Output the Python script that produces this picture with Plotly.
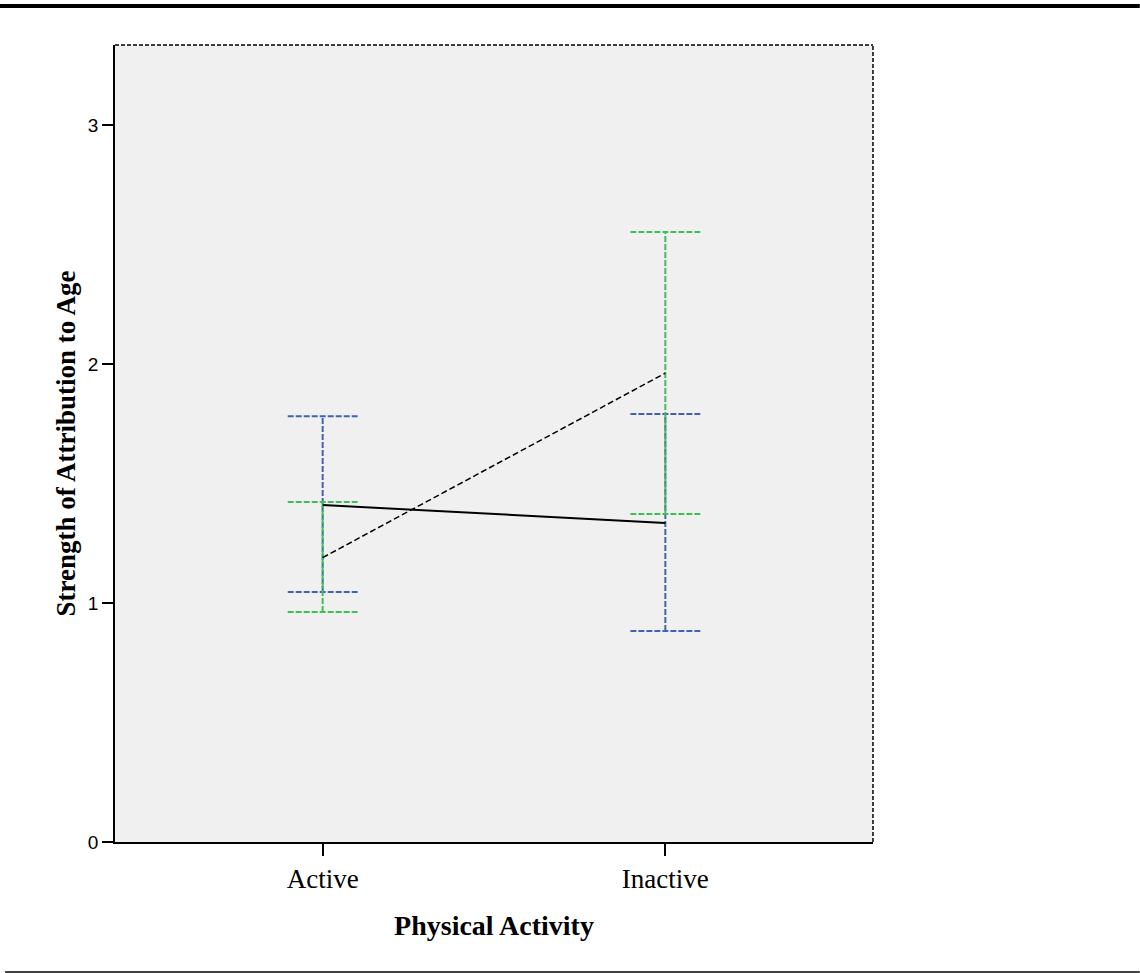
import plotly.graph_objects as go

categories = ["Active", "Inactive"]
# Series 1 (solid line, blue error bars)
s1_mean = [1.41, 1.335]
s1_low = [1.046, 0.883]
s1_high = [1.782, 1.791]
# Series 2 (dashed line, green error bars)
s2_mean = [1.19, 1.962]
s2_low = [0.962, 1.372]
s2_high = [1.423, 2.552]
y_ticks = [0, 1, 2, 3]

BLUE = "#4262b4"
GREEN = "#3fc055"
CAP = 0.102

x_pos = list(range(len(categories)))


def bar_trace(low, high, color):
    xs, ys = [], []
    for i, (lo, hi) in enumerate(zip(low, high)):
        xs += [i, i, None, i - CAP, i + CAP, None, i - CAP, i + CAP, None]
        ys += [lo, hi, None, lo, lo, None, hi, hi, None]
    return go.Scatter(x=xs, y=ys, mode="lines", showlegend=False, hoverinfo="skip",
                      line=dict(color=color, width=2, dash="6px,2px"))


fig = go.Figure()
fig.add_trace(bar_trace(s1_low, s1_high, BLUE))
fig.add_trace(bar_trace(s2_low, s2_high, GREEN))
fig.add_trace(go.Scatter(x=x_pos, y=s1_mean, mode="lines", showlegend=False,
                         line=dict(color="black", width=2)))
fig.add_trace(go.Scatter(x=x_pos, y=s2_mean, mode="lines", showlegend=False,
                         line=dict(color="black", width=1.5, dash="6px,3px")))

fig.update_layout(
    width=1140, height=973,
    margin=dict(l=115, r=267, t=45, b=131),
    paper_bgcolor="white", plot_bgcolor="#f0f0f0",
    showlegend=False,
)
fig.update_xaxes(
    range=[-0.606, 1.606], tickvals=x_pos, ticktext=categories,
    showgrid=False, zeroline=False, showline=True, linecolor="black", linewidth=1.5,
    ticks="outside", ticklen=12, tickwidth=2, tickcolor="black",
    tickfont=dict(family="Liberation Serif", size=27, color="black"),
    title=dict(text="<b>Physical Activity</b>", standoff=22,
               font=dict(family="Liberation Serif", size=28, color="black")),
)
fig.update_yaxes(
    range=[0, 3.335], tickvals=y_ticks,
    showgrid=False, zeroline=False, showline=True, linecolor="black", linewidth=1.5,
    ticks="outside", ticklen=11, tickwidth=2, tickcolor="black",
    tickfont=dict(family="Liberation Sans", size=19, color="black"),
    title=dict(text="<b>Strength of Attribution to Age</b>", standoff=4,
               font=dict(family="Liberation Serif", size=27, color="black")),
)
# dashed top and right frame
fig.add_shape(type="line", xref="paper", yref="paper", x0=0, x1=1, y0=1, y1=1,
              line=dict(color="black", width=1.5, dash="4px,2px"))
fig.add_shape(type="line", xref="paper", yref="paper", x0=1, x1=1, y0=0, y1=1,
              line=dict(color="black", width=1.5, dash="4px,2px"))
# page rules
fig.add_shape(type="line", xref="paper", yref="paper", x0=-0.1517, x1=1.352,
              y0=1.0489, y1=1.0489, line=dict(color="black", width=4))
fig.add_shape(type="line", xref="paper", yref="paper", x0=-0.145, x1=1.352,
              y0=-0.163, y1=-0.163, line=dict(color="black", width=1.5))

fig.write_html("out.html", config={"displayModeBar": False},
               post_script="document.body.style.margin='0px';")
